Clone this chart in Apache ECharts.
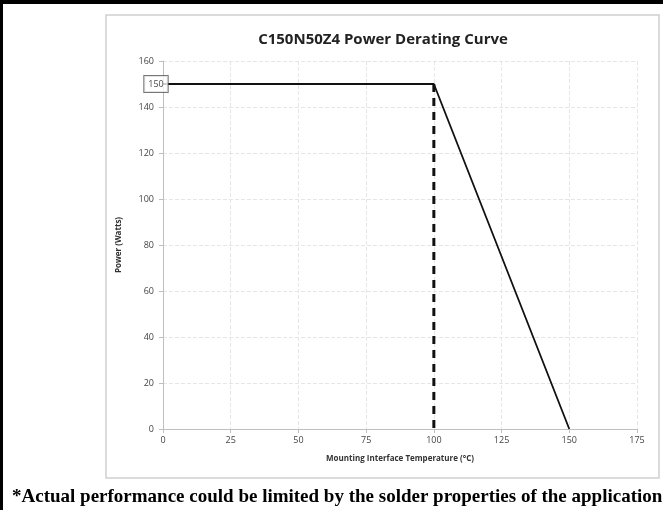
<!DOCTYPE html>
<html><head><meta charset="utf-8">
<style>html,body{margin:0;padding:0;background:#fff}#c{width:663px;height:510px}</style>
<script src="https://cdn.jsdelivr.net/npm/echarts@6/dist/echarts.min.js"></script>
</head><body><div id="c"></div>
<script>
const titleText = 'C150N50Z4 Power Derating Curve';
const footnote = '*Actual performance could be limited by the solder properties of the application';
const xName = 'Mounting Interface Temperature (°C)';
const yName = 'Power (Watts)';
const curveTemp = [0, 100, 150];
const curvePower = [150, 150, 0];
const dashTemp = [100, 100];
const dashPower = [150, 0];
const xTicks = [0, 25, 50, 75, 100, 125, 150, 175];
const yTicks = [0, 20, 40, 60, 80, 100, 120, 140, 160];

const chart = echarts.init(document.getElementById('c'), null, {renderer: 'canvas'});
chart.setOption({
  animation: false,
  backgroundColor: '#fff',
  title: [{
    text: titleText, left: 378, top: 27, textAlign: 'center',
    textStyle: {fontFamily: 'Open Sans', fontWeight: 'bold', fontSize: 15, color: '#222'}
  }, {
    text: footnote, left: 7, top: 483,
    textStyle: {fontFamily: 'Liberation Serif', fontWeight: 'bold', fontSize: 19, color: '#000'}
  }],
  graphic: [
    {type: 'rect', shape: {x: 106, y: 15, width: 553, height: 463}, style: {fill: 'none', stroke: '#cfcfcf', lineWidth: 1.5}, z: -1},
    {type: 'rect', shape: {x: 0, y: 0, width: 663, height: 4}, style: {fill: '#000'}},
    {type: 'rect', shape: {x: 0, y: 0, width: 3, height: 510}, style: {fill: '#000'}}
  ],
  grid: {left: 163, right: 26, top: 61, bottom: 81},
  xAxis: {
    type: 'value', min: 0, max: 175, interval: 25,
    name: xName, nameLocation: 'middle', nameGap: 26,
    nameTextStyle: {fontFamily: 'Open Sans', fontWeight: 'bold', fontSize: 8, color: '#333'},
    axisLine: {show: true, lineStyle: {color: '#bfbfbf', width: 1}},
    axisTick: {show: true, length: 4, lineStyle: {color: '#bfbfbf'}},
    axisLabel: {fontFamily: 'Open Sans', fontSize: 9, color: '#444', margin: 7, formatter: v => xTicks.includes(v) ? String(v) : ''},
    splitLine: {show: true, lineStyle: {color: '#e6e6e6', type: 'dashed', width: 1}}
  },
  yAxis: {
    type: 'value', min: 0, max: 160, interval: 20,
    name: yName, nameLocation: 'middle', nameGap: 40, nameRotate: 90,
    nameTextStyle: {fontFamily: 'Open Sans', fontWeight: 'bold', fontSize: 8, color: '#333'},
    axisLine: {show: true, lineStyle: {color: '#bfbfbf', width: 1}},
    axisTick: {show: true, length: 4, lineStyle: {color: '#bfbfbf'}},
    axisLabel: {fontFamily: 'Open Sans', fontSize: 9, color: '#444', margin: 9, formatter: v => yTicks.includes(v) ? String(v) : ''},
    splitLine: {show: true, lineStyle: {color: '#e6e6e6', type: 'dashed', width: 1}}
  },
  series: [{
    type: 'line', data: curveTemp.map((t, i) => [t, curvePower[i]]), symbol: 'none',
    lineStyle: {color: '#111', width: 1.8}, z: 3
  }, {
    type: 'line', data: dashTemp.map((t, i) => [t, dashPower[i]]), symbol: 'none',
    lineStyle: {color: '#111', width: 3, type: [8, 6]}, z: 2
  }, {
    type: 'scatter', data: [[curveTemp[0], curvePower[0]]], symbolSize: 2,
    itemStyle: {color: 'transparent'},
    label: {show: true, position: 'inside', offset: [-7, 0], formatter: p => String(p.value[1]),
      fontFamily: 'Open Sans', fontSize: 9, color: '#111', textBorderWidth: 0, backgroundColor: '#fff',
      borderColor: '#555', borderWidth: 1, padding: [4, 4, 3, 4]},
    z: 5
  }]
});
</script></body></html>
